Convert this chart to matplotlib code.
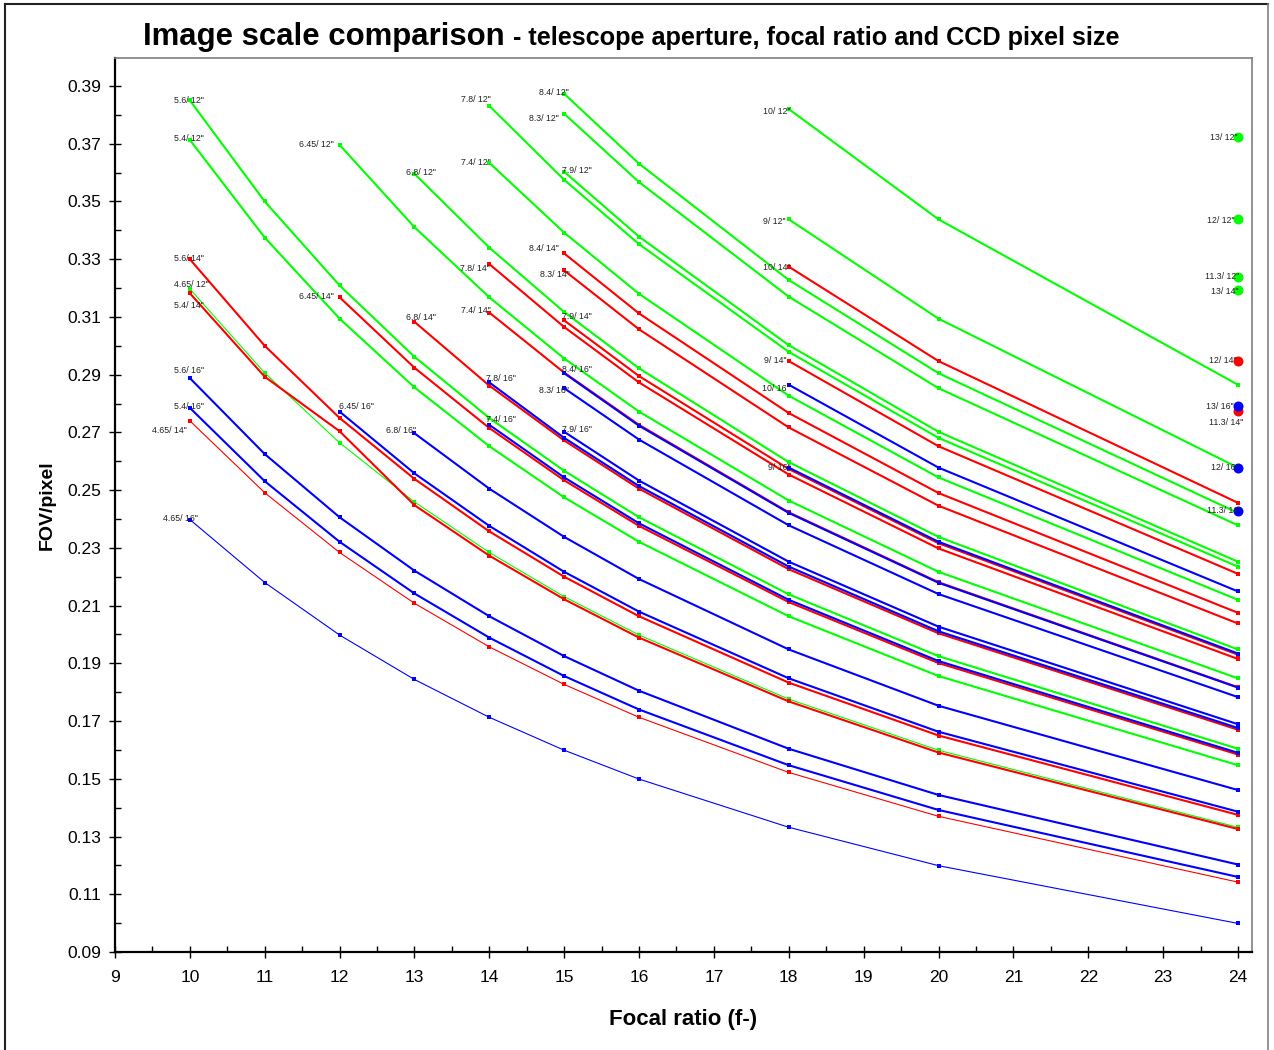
import matplotlib
matplotlib.use('Agg')
import matplotlib.pyplot as plt
from matplotlib.lines import Line2D
import numpy as np

plt.rcParams['font.family'] = ['Liberation Sans', 'DejaVu Sans']

W, H = 1274, 1050

# focal ratios where the curves have points; each curve ends at f/24,
# so a shorter list simply starts later
f_ratio = [10, 11, 12, 13, 14, 15, 16, 18, 20, 24]

# FOV per pixel (arcsec) keyed by CCD pixel size (um), 12" aperture
fov_12 = {
    '5.6':  [0.3850, 0.3500, 0.3209, 0.2962, 0.2750, 0.2567, 0.2406, 0.2139, 0.1925, 0.1604],
    '5.4':  [0.3713, 0.3375, 0.3094, 0.2856, 0.2652, 0.2475, 0.2321, 0.2063, 0.1856, 0.1547],
    '4.65': [0.3197, 0.2906, 0.2664, 0.2459, 0.2284, 0.2131, 0.1998, 0.1776, 0.1599, 0.1332],
    '6.45': [0.3696, 0.3411, 0.3168, 0.2956, 0.2772, 0.2464, 0.2217, 0.1848],
    '6.8':  [0.3596, 0.3340, 0.3117, 0.2922, 0.2597, 0.2338, 0.1948],
    '7.8':  [0.3831, 0.3575, 0.3352, 0.2979, 0.2681, 0.2235],
    '7.4':  [0.3634, 0.3392, 0.3180, 0.2827, 0.2544, 0.2120],
    '8.4':  [0.3873, 0.3631, 0.3228, 0.2905, 0.2421],
    '8.3':  [0.3804, 0.3567, 0.3170, 0.2853, 0.2378],
    '7.9':  [0.3603, 0.3378, 0.3002, 0.2702, 0.2252],
    '10':   [0.3820, 0.3438, 0.2865],
    '9':    [0.3438, 0.3094, 0.2578],
}

fov_14 = {
    '5.6':  [0.3300, 0.3000, 0.2750, 0.2539, 0.2357, 0.2200, 0.2063, 0.1833, 0.1650, 0.1375],
    '5.4':  [0.3182, 0.2893, 0.2704, 0.2448, 0.2273, 0.2122, 0.1989, 0.1768, 0.1591, 0.1326],
    '4.65': [0.2740, 0.2491, 0.2284, 0.2108, 0.1957, 0.1827, 0.1713, 0.1522, 0.1370, 0.1142],
    '6.45': [0.3168, 0.2924, 0.2715, 0.2534, 0.2376, 0.2112, 0.1901, 0.1584],
    '6.8':  [0.3083, 0.2862, 0.2672, 0.2505, 0.2226, 0.2004, 0.1670],
    '7.8':  [0.3283, 0.3065, 0.2873, 0.2554, 0.2298, 0.1915],
    '7.4':  [0.3115, 0.2907, 0.2726, 0.2423, 0.2181, 0.1817],
    '8.4':  [0.3320, 0.3112, 0.2767, 0.2490, 0.2075],
    '8.3':  [0.3261, 0.3057, 0.2717, 0.2446, 0.2038],
    '7.9':  [0.3088, 0.2895, 0.2573, 0.2316, 0.1930],
    '10':   [0.3274, 0.2947, 0.2456],
    '9':    [0.2947, 0.2652, 0.2210],
}

fov_16 = {
    '5.6':  [0.2888, 0.2625, 0.2406, 0.2221, 0.2063, 0.1925, 0.1805, 0.1604, 0.1444, 0.1203],
    '5.4':  [0.2785, 0.2531, 0.2321, 0.2142, 0.1989, 0.1856, 0.1740, 0.1547, 0.1392, 0.1160],
    '4.65': [0.2398, 0.2180, 0.1998, 0.1844, 0.1713, 0.1599, 0.1499, 0.1332, 0.1199, 0.0999],
    '6.45': [0.2772, 0.2558, 0.2376, 0.2217, 0.2079, 0.1848, 0.1663, 0.1386],
    '6.8':  [0.2697, 0.2505, 0.2338, 0.2192, 0.1948, 0.1753, 0.1461],
    '7.8':  [0.2873, 0.2681, 0.2514, 0.2235, 0.2011, 0.1676],
    '7.4':  [0.2726, 0.2544, 0.2385, 0.2120, 0.1908, 0.1590],
    '8.4':  [0.2905, 0.2723, 0.2421, 0.2179, 0.1816],
    '8.3':  [0.2853, 0.2675, 0.2378, 0.2140, 0.1783],
    '7.9':  [0.2702, 0.2533, 0.2252, 0.2027, 0.1689],
    '10':   [0.2865, 0.2578, 0.2149],
    '9':    [0.2578, 0.2321, 0.1934],
}

# pixel sizes that only appear as a single point at f/24
dots_12 = {'13': 0.3724, '12': 0.3438, '11.3': 0.3237}
dots_14 = {'13': 0.3192, '12': 0.2947, '11.3': 0.2775}
dots_16 = {'13': 0.2793, '12': 0.2578, '11.3': 0.2428}

apertures = ['12', '14', '16']

# ---- styling ----
ap_colour = {'12': '#00ff00', '14': '#ff0000', '16': '#0000ff'}
dot_colour_fix = {'13/ 14"': '#00ff00'}   # drawn green in the original
thin_sizes = ['4.65']

# label offsets (pixels): right edge of text from point, baseline below point
label_off = {
    '5.6/ 12"': (14, 3), '5.4/ 12"': (14, 1), '4.65/ 12"': (19, -2), '6.45/ 12"': (-6, 2),
    '6.8/ 12"': (21, 1), '7.8/ 12"': (1, -4), '7.4/ 12"': (1, 2), '8.4/ 12"': (5, 1),
    '8.3/ 12"': (-5, 7), '7.9/ 12"': (28, 1), '10/ 12"': (2, 5), '9/ 12"': (-3, 5),
    '13/ 12"': (0, 3), '12/ 12"': (-3, 4), '11.3/ 12"': (1, 2),
    '5.6/ 14"': (14, 2), '5.4/ 14"': (14, 15), '4.65/ 14"': (-3, 12), '6.45/ 14"': (-6, 2),
    '6.8/ 14"': (21, -2), '7.8/ 14"': (0, 7), '7.4/ 14"': (1, 0), '8.4/ 14"': (-5, -2),
    '8.3/ 14"': (6, 7), '7.9/ 14"': (28, -1), '10/ 14"': (2, 3), '9/ 14"': (-2, 2),
    '13/ 14"': (1, 4), '12/ 14"': (-1, 2), '11.3/ 14"': (5, 14),
    '5.6/ 16"': (14, -5), '5.4/ 16"': (14, 1), '4.65/ 16"': (8, 1), '6.45/ 16"': (34, -3),
    '6.8/ 16"': (2, 0), '7.8/ 16"': (27, -1), '7.4/ 16"': (27, -3), '8.4/ 16"': (28, -1),
    '8.3/ 16"': (5, 5), '7.9/ 16"': (28, 0), '10/ 16"': (1, 6), '9/ 16"': (2, 2),
    '13/ 16"': (-4, 3), '12/ 16"': (1, 2), '11.3/ 16"': (3, 2),
}


def put_label(ax, text, x, y):
  dx, dy = label_off.get(text, (0, 0))
  ax.annotate(text, xy=(x, y), xytext=(dx, -dy), textcoords='offset pixels',
              ha='right', va='baseline', fontsize=6.3, color='#222222')


def main():
  fig = plt.figure(figsize=(W / 100, H / 100), dpi=100)
  ax = fig.add_axes([115 / W, 1 - 952 / H, (1252 - 115) / W, (952 - 58) / H])

  curves = {'12': fov_12, '14': fov_14, '16': fov_16}
  dots = {'12': dots_12, '14': dots_14, '16': dots_16}

  for ap in apertures:
    col = ap_colour[ap]
    for px, vals in curves[ap].items():
      xs = f_ratio[-len(vals):]
      lw = 0.8 if px in thin_sizes else 1.5
      ax.plot(xs, vals, color=col, lw=lw, marker='s', ms=2.8, mew=0, zorder=2)
      put_label(ax, f'{px}/ {ap}"', xs[0], vals[0])

  for ap in apertures:
    for px, v in dots[ap].items():
      lab = f'{px}/ {ap}"'
      ax.plot([f_ratio[-1]], [v], 'o', color=dot_colour_fix.get(lab, ap_colour[ap]),
              ms=7.2, mew=0, zorder=3)
      put_label(ax, lab, f_ratio[-1], v)

  ax.set_xlim(9, 24.187)
  ax.set_ylim(0.09, 0.3997)
  ax.set_xticks(np.arange(9, 25, 1))
  ax.set_xticks(np.arange(9.5, 24, 1), minor=True)
  ax.set_yticks(np.arange(0.09, 0.391, 0.02))
  ax.set_yticks(np.arange(0.10, 0.39, 0.02), minor=True)
  ax.yaxis.set_major_formatter(matplotlib.ticker.FormatStrFormatter('%.2f'))
  ax.tick_params(which='major', direction='inout', length=8, width=1.0,
                 labelsize=12.5, colors='black')
  ax.tick_params(axis='y', which='major', pad=6)
  ax.tick_params(axis='x', which='major', pad=9)
  ax.tick_params(which='minor', direction='in', length=4, width=1.0)

  for s in ['left', 'bottom']:
    ax.spines[s].set_linewidth(1.6)
    ax.spines[s].set_color('black')
  for s in ['top', 'right']:
    ax.spines[s].set_linewidth(1.2)
    ax.spines[s].set_color('#7f7f7f')

  fig.text(683.5 / W, 1 - 1019 / H, 'Focal ratio (f-)', fontsize=16, fontweight='bold',
           ha='center', va='center')
  fig.text(47 / W, 1 - 505 / H, 'FOV/pixel', fontsize=14, fontweight='bold',
           ha='center', va='center', rotation=90)

  # two-part title on one baseline
  t1 = fig.text(143 / W, 1 - 45 / H, 'Image scale comparison', fontsize=22.4,
                fontweight='bold', ha='left', va='baseline')
  fig.canvas.draw()
  bb = t1.get_window_extent()
  fig.text((bb.x1 + 8) / W, 1 - 45 / H,
           '- telescope aperture, focal ratio and CCD pixel size',
           fontsize=18.2, fontweight='bold', ha='left', va='baseline')

  # outer frame
  fig.add_artist(Line2D([5 / W, 1268 / W], [1 - 4 / H, 1 - 4 / H], color='#222222', lw=1.5))
  fig.add_artist(Line2D([5 / W, 5 / W], [0, 1 - 4 / H], color='#222222', lw=1.5))
  fig.add_artist(Line2D([1268 / W, 1268 / W], [0, 1 - 4 / H], color='#7f7f7f', lw=1.2))

  fig.savefig('out.png', dpi=100)


if __name__ == '__main__':
  main()
